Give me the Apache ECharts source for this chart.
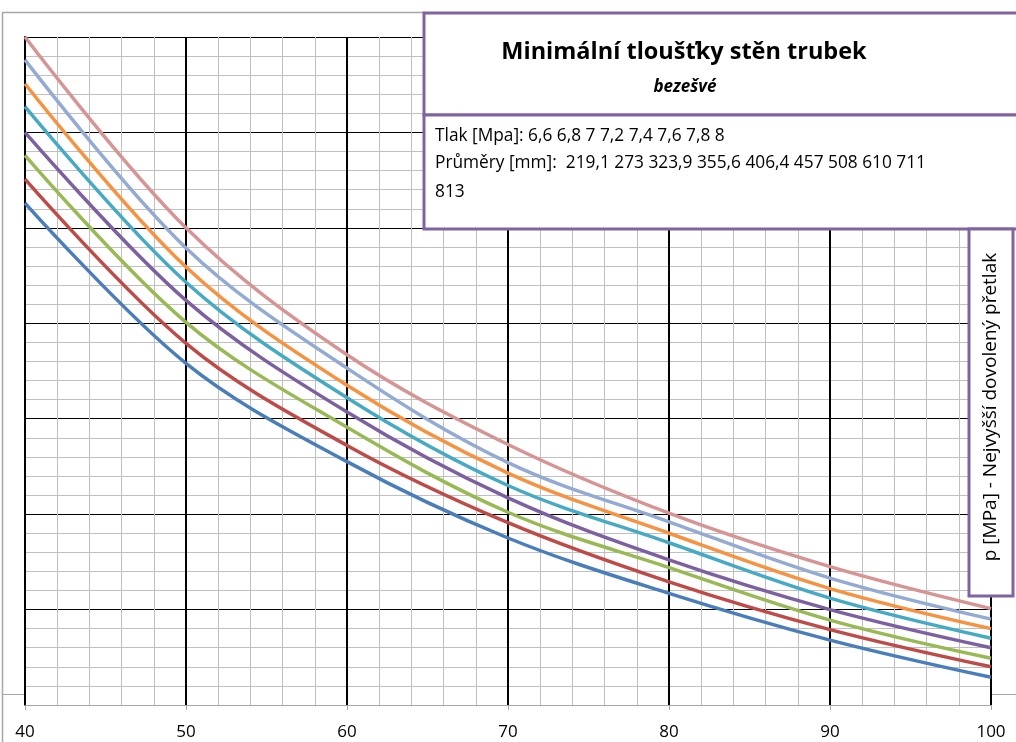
<!DOCTYPE html>
<html>
<head>
<meta charset="utf-8">
<script src="https://cdn.jsdelivr.net/npm/echarts@6/dist/echarts.min.js"></script>
<style>
  html, body { margin: 0; padding: 0; background: #fff; }
  #chart { width: 1016px; height: 742px; }
</style>
</head>
<body>
<div id="chart"></div>
<script>
// data (x step 10, y in plot units 0..7)
var xValues = [40, 50, 60, 70, 80, 90, 100];
var seriesNames = ['6,6', '6,8', '7', '7,2', '7,4', '7,6', '7,8', '8'];
var s1 = [5.26, 3.58, 2.55, 1.75, 1.17, 0.68, 0.29];
var s2 = [5.51, 3.79, 2.72, 1.91, 1.29, 0.79, 0.40];
var s3 = [5.76, 4.01, 2.91, 2.02, 1.44, 0.89, 0.49];
var s4 = [6.00, 4.24, 3.07, 2.17, 1.52, 1.00, 0.60];
var s5 = [6.27, 4.43, 3.22, 2.30, 1.70, 1.12, 0.70];
var s6 = [6.51, 4.59, 3.35, 2.43, 1.80, 1.22, 0.80];
var s7 = [6.76, 4.79, 3.53, 2.54, 1.92, 1.33, 0.90];
var s8 = [7.00, 5.00, 3.67, 2.73, 2.01, 1.45, 1.01];
var allSeries = [s1, s2, s3, s4, s5, s6, s7, s8];
var colors = ['#4A7EBB', '#BE4B48', '#98B954', '#7D60A0', '#46AAC5', '#F69240', '#93ABD3', '#D69594'];

var myChart = echarts.init(document.getElementById('chart'));
var font = '"Open Sans", sans-serif';
var purple = '#8064A2';

var series = allSeries.map(function (vals, i) {
  return {
    name: seriesNames[i],
    type: 'line',
    smooth: 0.35,
    showSymbol: false,
    data: vals.map(function (v, j) { return [xValues[j], v]; }),
    lineStyle: { color: colors[i], width: 3.5 },
    itemStyle: { color: colors[i] },
    z: 3
  };
});

var option = {
  animation: false,
  backgroundColor: '#fff',
  grid: { left: 25, top: 37, right: 25, bottom: 37, containLabel: false },
  xAxis: {
    type: 'value',
    min: 40, max: 100, interval: 10,
    axisLine: { show: true, lineStyle: { color: '#a6a6a6', width: 1 } },
    axisTick: { show: true, length: 5, lineStyle: { color: '#a6a6a6' } },
    axisLabel: { color: '#000', fontSize: 17, fontFamily: font, margin: 19 },
    splitLine: { show: true, lineStyle: { color: '#000', width: 2 } },
    minorTick: { show: false, splitNumber: 5 },
    minorSplitLine: { show: true, lineStyle: { color: '#c0c0c0', width: 1 } }
  },
  yAxis: {
    type: 'value',
    min: 0, max: 7, interval: 1,
    axisLine: { show: true, lineStyle: { color: '#000', width: 2 } },
    axisTick: { show: false },
    axisLabel: { show: false },
    splitLine: { show: true, lineStyle: { color: '#000', width: 1 } },
    minorTick: { show: false, splitNumber: 5 },
    minorSplitLine: { show: true, lineStyle: { color: '#c0c0c0', width: 1 } }
  },
  series: series,
  graphic: [
    // outer chart border bits
    { type: 'line', shape: { x1: 2.5, y1: 12.5, x2: 2.5, y2: 742 }, style: { stroke: '#a6a6a6', lineWidth: 1.5 }, z: 1 },
    { type: 'line', shape: { x1: 2, y1: 12.5, x2: 425, y2: 12.5 }, style: { stroke: '#a6a6a6', lineWidth: 1.5 }, z: 1 },
    { type: 'line', shape: { x1: 2, y1: 694.5, x2: 24, y2: 694.5 }, style: { stroke: '#a6a6a6', lineWidth: 1 }, z: 1 },
    { type: 'line', shape: { x1: 992, y1: 694.5, x2: 1016, y2: 694.5 }, style: { stroke: '#a6a6a6', lineWidth: 1 }, z: 1 },
    // title box
    { type: 'rect', shape: { x: 424, y: 13, width: 600, height: 102 }, style: { fill: '#fff', stroke: purple, lineWidth: 3 }, z: 10 },
    { type: 'text', x: 684, y: 52, z: 11, style: { text: 'Minimální tloušťky stěn trubek', font: 'bold 23.5px ' + font, fill: '#000', align: 'center', verticalAlign: 'middle' } },
    { type: 'text', x: 685, y: 87, z: 11, style: { text: 'bezešvé', font: 'italic bold 17px ' + font, fill: '#000', align: 'center', verticalAlign: 'middle' } },
    // legend box
    { type: 'rect', shape: { x: 424, y: 115, width: 600, height: 114 }, style: { fill: '#fff', stroke: purple, lineWidth: 3 }, z: 10 },
    { type: 'text', x: 435, y: 136, z: 11, style: { text: 'Tlak [Mpa]: 6,6 6,8 7 7,2 7,4 7,6 7,8 8', font: '17.3px ' + font, fill: '#000', verticalAlign: 'middle' } },
    { type: 'text', x: 435, y: 163, z: 11, style: { text: 'Průměry [mm]:  219,1 273 323,9 355,6 406,4 457 508 610 711', font: '17.3px ' + font, fill: '#000', verticalAlign: 'middle' } },
    { type: 'text', x: 435, y: 192, z: 11, style: { text: '813', font: '17.3px ' + font, fill: '#000', verticalAlign: 'middle' } },
    // y axis title box (right)
    { type: 'rect', shape: { x: 969, y: 229, width: 44, height: 367 }, style: { fill: '#fff', stroke: purple, lineWidth: 3 }, z: 10 },
    { type: 'text', x: 991, y: 407, rotation: Math.PI / 2, z: 11, style: { text: 'p [MPa] - Nejvyšší dovolený přetlak', font: '19px ' + font, fill: '#000', align: 'center', verticalAlign: 'middle' } }
  ]
};

myChart.setOption(option);
window.addEventListener('resize', function () {
  myChart.resize();
});
</script>
</body>
</html>
